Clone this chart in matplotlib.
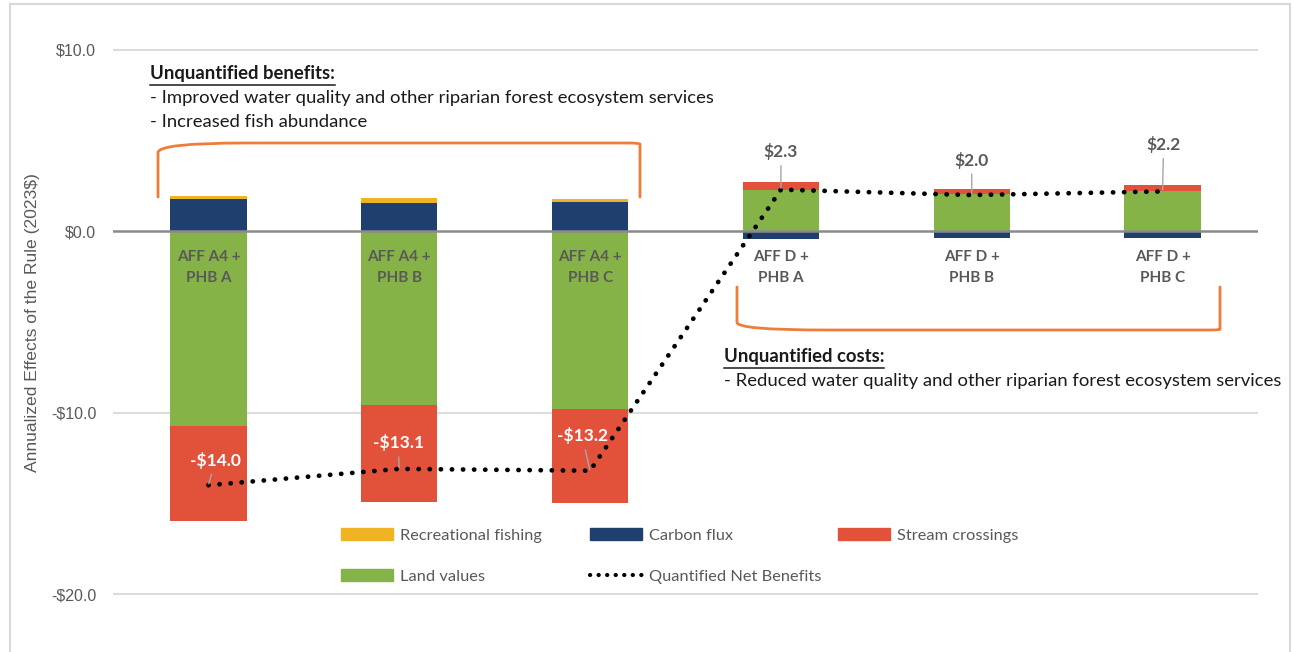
import matplotlib
matplotlib.use('Agg')
import matplotlib.pyplot as plt
from matplotlib.path import Path
from matplotlib.patches import PathPatch, Patch
from matplotlib.lines import Line2D
import numpy as np

# scenario data, millions of 2023 dollars per year
categories = ['AFF A4 +\nPHB A', 'AFF A4 +\nPHB B', 'AFF A4 +\nPHB C',
              'AFF D +\nPHB A', 'AFF D +\nPHB B', 'AFF D +\nPHB C']
carbon_flux = [1.80, 1.58, 1.61, -0.40, -0.35, -0.35]
recreational_fishing = [0.15, 0.24, 0.15, 0.0, 0.0, 0.0]
land_values = [-10.75, -9.60, -9.80, 2.30, 2.05, 2.20]
stream_crossings = [-5.20, -5.30, -5.20, 0.40, 0.30, 0.35]
net_benefits = [-14.0, -13.1, -13.2, 2.3, 2.0, 2.2]
y_ticks = [10, 0, -10, -20]

C_FISH = '#f0b323'
C_CARBON = '#1f3f6e'
C_STREAM = '#e2523b'
C_LAND = '#85b347'
C_BRACKET = '#ec7d3a'
C_TEXT = '#595959'

W, H, DPI = 1293, 652, 100
fig = plt.figure(figsize=(W / DPI, H / DPI), dpi=DPI)
fig.patch.set_facecolor('white')

# plot area: x from 113 px to 1258 px, $10 gridline at 50 px, -$20 at 594 px
ppu = (594 - 50) / 30.0
ylo, yhi = -22.8, 11.5
top_px = 50 - (yhi - 10) * ppu
bot_px = 594 + (-20 - ylo) * ppu
ax = fig.add_axes([113 / W, 1 - bot_px / H, (1258 - 113) / W, (bot_px - top_px) / H])
ax.set_xlim(-0.5, 5.5)
ax.set_ylim(ylo, yhi)

x = np.arange(len(categories))
series = [(carbon_flux, C_CARBON), (recreational_fishing, C_FISH),
          (land_values, C_LAND), (stream_crossings, C_STREAM)]
pos_base = np.zeros(len(x))
neg_base = np.zeros(len(x))
for vals, color in series:
    v = np.array(vals)
    base = np.where(v >= 0, pos_base, neg_base)
    ax.bar(x, v, 0.4, bottom=base, color=color, zorder=2)
    pos_base += np.clip(v, 0, None)
    neg_base += np.clip(v, None, 0)

# gridlines and zero line
for t in y_ticks:
    if t == 0:
        ax.axhline(0, color='#8a8a8a', lw=1.8, zorder=3)
    else:
        ax.axhline(t, color='#dcdcdc', lw=1.5, zorder=1)

ax.plot(x, net_benefits, color='black', lw=3.4, linestyle=(0, (0.05, 2.3)),
        dash_capstyle='round', zorder=4)

for s in ax.spines.values():
    s.set_visible(False)
ax.set_xticks([])
ax.set_yticks(y_ticks)
ax.set_yticklabels([('-$%.1f' % abs(t)) if t < 0 else ('$%.1f' % t) for t in y_ticks],
                   fontfamily='Liberation Sans', fontsize=11.5, color=C_TEXT)
ax.tick_params(axis='y', length=0, pad=12)

fig.text(33 / W, 1 - 323 / H, 'Annualized Effects of the Rule (2023$)', rotation=90,
         ha='center', va='center', fontfamily='Liberation Sans', fontsize=12.6, color=C_TEXT)

# category labels sit just below the zero line
for xi, cat in zip(x, categories):
    ax.text(xi, -2.0, cat, ha='center', va='center', fontfamily='Lato',
            fontweight='bold', fontsize=11, color=C_TEXT, linespacing=1.6, zorder=5)

# net benefit labels with leader lines
label_offsets = [(7, 25), (-1, 26), (-8, 35), (0, 38), (0, 35), (1, 47)]
for xi, val, (dx, dy) in zip(x, net_benefits, label_offsets):
    txt = ('-$%.1f' % abs(val)) if val < 0 else ('$%.1f' % val)
    col = 'white' if val < 0 else C_TEXT
    ax.annotate(txt, xy=(xi, val), xytext=(dx * 0.72, dy * 0.72), textcoords='offset points',
                ha='center', va='center', fontfamily='Lato', fontweight='bold',
                fontsize=12.5, color=col, zorder=6,
                arrowprops=dict(arrowstyle='-', color='#a6a6a6', lw=1.0,
                                shrinkA=2, shrinkB=1))


def px_to_data(px, py):
    return ((px - 113) / (1258 - 113) * 6 - 0.5, yhi - (py - top_px) / ppu)


def bracket(points, r):
    # polyline with rounded corners, points in pixels
    pts = [np.array(px_to_data(*p)) for p in points]
    verts, codes = [pts[0]], [Path.MOVETO]
    for i in range(1, len(pts) - 1):
        p0, p1, p2 = pts[i - 1], pts[i], pts[i + 1]
        verts += [p1 + (p0 - p1) * r[i - 1], p1, p1 + (p2 - p1) * r[i - 1]]
        codes += [Path.LINETO, Path.CURVE3, Path.CURVE3]
    verts.append(pts[-1]); codes.append(Path.LINETO)
    ax.add_patch(PathPatch(Path(verts, codes), fill=False, edgecolor=C_BRACKET,
                           lw=2, zorder=3, capstyle='round'))


bracket([(158, 197), (158, 143), (640, 143), (640, 197)], [0.18, 0.025])
bracket([(737, 287), (737, 330), (1220, 330), (1220, 287)], [0.18, 0.018])


def heading(px, py, title, lines):
    hx, hy = px_to_data(px, py)
    t = ax.text(hx, hy, title, ha='left', va='center', fontfamily='Lato',
                fontweight='bold', fontsize=13.3, color='#1a1a1a', zorder=6)
    fig.canvas.draw()
    bb = t.get_window_extent().transformed(ax.transData.inverted())
    uy = px_to_data(0, py + 11)[1]
    ax.plot([bb.x0, bb.x1], [uy, uy], color='#1a1a1a', lw=1.1, zorder=6)
    for k, line in enumerate(lines):
        lx, ly = px_to_data(px, py + 24 * (k + 1))
        ax.text(lx, ly, line, ha='left', va='center', fontfamily='Lato',
                fontsize=13.3, color='#1a1a1a', zorder=6)


heading(150, 74, 'Unquantified benefits:',
        ['- Improved water quality and other riparian forest ecosystem services',
         '- Increased fish abundance'])
heading(724, 357, 'Unquantified costs:',
        ['- Reduced water quality and other riparian forest ecosystem services'])

# legend, one column at a time
legend_cols = [
    (341, [Patch(color=C_FISH, label='Recreational fishing'),
           Patch(color=C_LAND, label='Land values')]),
    (590, [Patch(color=C_CARBON, label='Carbon flux'),
           Line2D([], [], color='black', lw=3, linestyle=(0, (0.05, 2.0)),
                  dash_capstyle='round', label='Quantified Net Benefits')]),
    (838, [Patch(color=C_STREAM, label='Stream crossings')]),
]
for lx, handles in legend_cols:
    leg = fig.legend(handles=handles, loc='upper left', bbox_to_anchor=(lx / W, 1 - 528 / H),
                     frameon=False, borderpad=0, borderaxespad=0, handlelength=3.2,
                     handleheight=0.75, handletextpad=0.4, labelspacing=1.6,
                     prop={'family': 'Lato', 'size': 11.8})
    for txt in leg.get_texts():
        txt.set_color(C_TEXT)

# outer frame
fig.add_artist(Line2D([10 / W, 10 / W], [0, 1 - 4 / H], color='#d9d9d9', lw=1.5))
fig.add_artist(Line2D([10 / W, 1290 / W], [1 - 4 / H, 1 - 4 / H], color='#d9d9d9', lw=1.5))
fig.add_artist(Line2D([1290 / W, 1290 / W], [0, 1 - 4 / H], color='#d9d9d9', lw=1.5))

fig.savefig('out.png', dpi=DPI)
